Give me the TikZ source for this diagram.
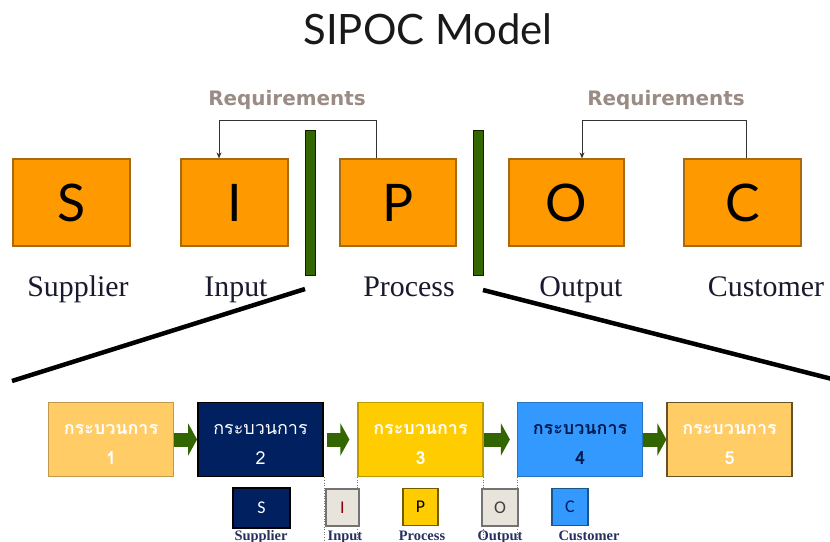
\documentclass[tikz,border=0pt]{standalone}
\usepackage{fontspec}
\setmainfont{Liberation Serif}
\newfontfamily\titlefont{Lato}
\newfontfamily\reqfont{DejaVu Sans}
\newfontfamily\smallsans{Carlito}
\newfontfamily\thaifont[Script=Thai]{Loma}
\usetikzlibrary{arrows.meta}
\definecolor{orangebox}{HTML}{FF9900}
\definecolor{orangeedge}{HTML}{A86A10}
\definecolor{barfill}{HTML}{336600}
\definecolor{reqcol}{HTML}{9A8C84}
\definecolor{lightor}{HTML}{FFCC66}
\definecolor{navy}{HTML}{002060}
\definecolor{gold}{HTML}{FFCC00}
\definecolor{skyb}{HTML}{3399FF}
\definecolor{paleg}{HTML}{E8E4DC}
\definecolor{labcol}{HTML}{1A1A2E}
\definecolor{sublab}{HTML}{26305E}
\begin{document}
\begin{tikzpicture}[x=1bp,y=-1bp,
  bigbox/.style={draw=orangeedge,line width=1.2bp,fill=orangebox,minimum height=87bp,inner sep=0pt,
    font=\titlefont\fontsize{52}{52}\selectfont},
  gbar/.style={draw=black!70!barfill,fill=barfill,line width=0.6bp,minimum width=10bp,minimum height=145bp,inner sep=0pt},
  reqline/.style={draw=black!80,line width=0.8bp},
  reqlabel/.style={text=reqcol,font=\reqfont\bfseries\fontsize{20}{20}\selectfont},
  toplabel/.style={text=labcol,anchor=base,font=\fontsize{30}{30}\selectfont},
  botbox/.style={line width=1.2bp,minimum height=74bp,minimum width=125bp,inner sep=0pt},
  thaitext/.style={inner sep=0pt,align=center,font=\thaifont\fontsize{18}{30}\selectfont},
  thaibold/.style={thaitext,font=\thaifont\bfseries\fontsize{18}{30}\selectfont},
  flowarrow/.style={draw=barfill,line width=14bp,-{Triangle[width=32bp,length=9bp]}},
  dotline/.style={draw=black!55,line width=0.6bp,dotted},
  smallbox/.style={line width=1.2bp,minimum height=37bp,inner sep=0pt,font=\smallsans\fontsize{18}{18}\selectfont},
  sublabel/.style={text=sublab,anchor=base,font=\bfseries\fontsize{14.5}{14.5}\selectfont},
  diag/.style={draw=black,line width=4.5bp}
]
\useasboundingbox (0,0) rectangle (830,542);
\fill[white] (0,0) rectangle (830,542);

\node[font=\titlefont\fontsize{42}{42}\selectfont, text=black!90] (title) at (428,29) {SIPOC Model};

% top boxes
\node[bigbox,minimum width=117bp] (S) at (71.5,202.5) {S};
\node[bigbox,minimum width=107bp] (I) at (234.5,202.5) {I};
\node[bigbox,minimum width=116bp] (P) at (398,202.5) {P};
\node[bigbox,minimum width=115bp] (O) at (566.5,202.5) {O};
\node[bigbox,minimum width=117bp] (C) at (742.5,202.5) {C};

\node[gbar] (gL) at (310,203) {};
\node[gbar] (gR) at (478.5,203) {};

% requirement brackets
\node[reqlabel] (req1) at (287,100) {Requirements};
\node[reqlabel] (req2) at (666,100) {Requirements};
\draw[reqline,-{Stealth[length=6bp,width=5bp]}] ([xshift=-22bp]P.north) -- ++(0,-38) -| ([xshift=-15.5bp]I.north);
\draw[reqline,-{Stealth[length=6bp,width=5bp]}] ([xshift=3.5bp]C.north) -- ++(0,-38) -| ([xshift=15.5bp]O.north);

% labels
\node[toplabel] (lS) at (78,297) {Supplier};
\node[toplabel] (lI) at (236,297) {Input};
\node[toplabel] (lP) at (409,297) {Process};
\node[toplabel] (lO) at (581,297) {Output};
\node[toplabel] (lC) at (766,297) {Customer};

% diagonal zoom lines
\coordinate (d1a) at (305,289);
\coordinate (d1b) at (12,381);
\coordinate (d2a) at (483,290);
\coordinate (d2b) at (832,379);
\draw[diag] (d1a) -- (d1b);
\draw[diag] (d2a) -- (d2b);

% bottom process boxes
\node[botbox,draw=lightor!75!black,fill=lightor] (b1) at (111,439.5) {};
\node[botbox,draw=black,fill=navy,line width=1.8bp] (b2) at (260.5,439.5) {};
\node[botbox,draw=gold!75!black,fill=gold] (b3) at (420.5,439.5) {};
\node[botbox,draw=skyb!75!black,fill=skyb] (b4) at (580,439.5) {};
\node[botbox,draw=black!60!lightor,fill=lightor] (b5) at (729.5,439.5) {};
\node[thaibold,text=white] (t1) at ([yshift=-5bp]b1.center) {กระบวนการ\\1};
\node[thaitext,text=white] (t2) at ([yshift=-5bp]b2.center) {กระบวนการ\\2};
\node[thaibold,text=white] (t3) at ([yshift=-5bp]b3.center) {กระบวนการ\\3};
\node[thaibold,text=navy!80!black] (t4) at ([yshift=-5bp]b4.center) {กระบวนการ\\4};
\node[thaibold,text=white] (t5) at ([yshift=-5bp]b5.center) {กระบวนการ\\5};

\draw[flowarrow] (b1.east) -- (b2.west);
\draw[flowarrow,shorten >=8bp] ([xshift=3bp]b2.east) -- (b3.west);
\draw[flowarrow,shorten >=7bp] (b3.east) -- (b4.west);
\draw[flowarrow] (b4.east) -- (b5.west);

\draw[dotline] (b2.south east) -- ++(0,70);
\draw[dotline] (b3.south west) -- ++(0,70);
\draw[dotline] (b3.south east) -- ++(0,70);
\draw[dotline] (b4.south west) -- ++(0,70);

% small SIPOC boxes
\node[smallbox,draw=black,fill=navy,text=white,minimum width=57bp,minimum height=40bp] (sS) at (261.5,508) {S};
\node[smallbox,draw=black!55,fill=paleg,text=red!55!black,minimum width=33bp] (sI) at (342.5,507.5) {I};
\node[smallbox,draw=gold!45!black,fill=gold,text=black,minimum width=35bp] (sP) at (420.5,507) {P};
\node[smallbox,draw=black!55,fill=paleg,text=black!75,minimum width=36bp] (sO) at (500,507.5) {O};
\node[smallbox,draw=skyb!55!black,fill=skyb,text=navy,minimum width=36bp] (sC) at (570,507) {C};

\node[sublabel] (tS) at (261,540) {Supplier};
\node[sublabel] (tI) at (345,540) {Input};
\node[sublabel] (tP) at (422,540) {Process};
\node[sublabel] (tO) at (500,540) {Output};
\node[sublabel] (tC) at (589,540) {Customer};
\end{tikzpicture}
\end{document}
